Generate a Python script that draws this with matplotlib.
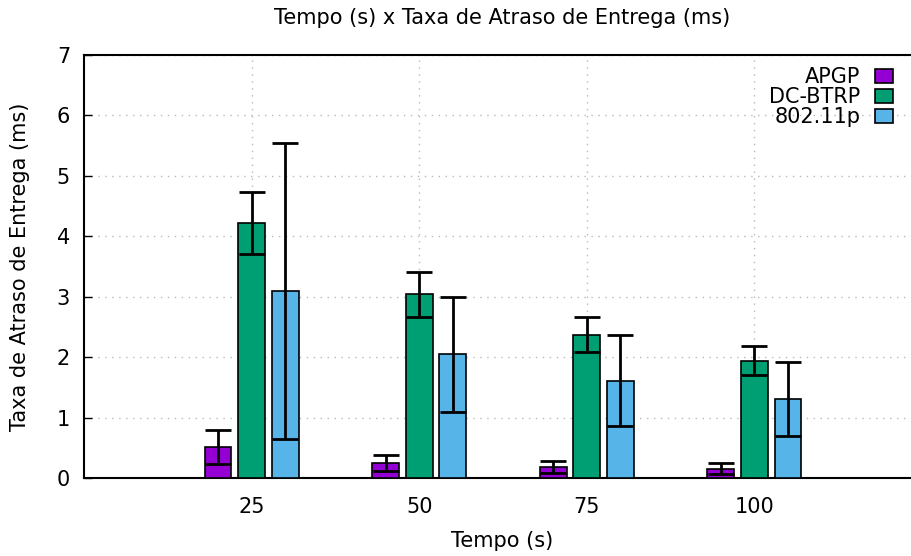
import numpy as np
import matplotlib
matplotlib.use("Agg")
import matplotlib.pyplot as plt

# data
tempos = [25, 50, 75, 100]
apgp = [0.51, 0.25, 0.18, 0.15]
apgp_err = [0.28, 0.13, 0.10, 0.09]
dcbtrp = [4.22, 3.04, 2.37, 1.94]
dcbtrp_err = [0.51, 0.37, 0.29, 0.24]
p80211 = [3.09, 2.05, 1.61, 1.31]
p80211_err = [2.45, 0.95, 0.75, 0.61]

series = [
    ("APGP", apgp, apgp_err, "#9400d3"),
    ("DC-BTRP", dcbtrp, dcbtrp_err, "#009e73"),
    ("802.11p", p80211, p80211_err, "#56b4e9"),
]

plt.rcParams['font.family'] = ['DejaVu Sans']
fs = 15

fig = plt.figure(figsize=(9.12, 5.56), dpi=100)
# right border sits past the image edge, like the reference
ax = fig.add_axes([84 / 912, 78 / 556, (922 - 84) / 912, (478 - 55) / 556])

x = np.array(tempos, dtype=float)
offsets = [-5, 0, 5]
width = 4
for (name, vals, errs, color), off in zip(series, offsets):
    ax.bar(x + off, vals, width, color=color, edgecolor="black", linewidth=1.2,
           label=name, zorder=3)
    ax.errorbar(x + off, vals, yerr=errs, fmt="none", ecolor="black",
                elinewidth=2, capsize=9.5, capthick=2, zorder=4)

ax.set_xlim(0, 125)
ax.set_ylim(0, 7)
ax.set_xticks(tempos)
ax.set_yticks(range(0, 8))
ax.tick_params(axis="x", length=0, labelsize=fs, pad=14)
ax.tick_params(axis="y", direction="in", length=6, width=1, labelsize=fs, pad=10)
ax.grid(True, color="#b8b8b8", linestyle=(0, (1, 4)), linewidth=1, zorder=0)
for s in ax.spines.values():
    s.set_linewidth(1.5)

ax.set_xlabel("Tempo (s)", fontsize=fs, va="center")
ax.set_ylabel("Taxa de Atraso de Entrega (ms)", fontsize=fs, va="center")
ax.xaxis.set_label_coords(418 / 838, (478 - 541) / 423)
ax.yaxis.set_label_coords((20 - 84) / 838, 0.5)
fig.text(502 / 912, 1 - 18 / 556, "Tempo (s) x Taxa de Atraso de Entrega (ms)",
         ha="center", va="center", fontsize=fs)

ax.legend(loc="upper right", bbox_to_anchor=((905 - 84) / 838, 1.0),
          frameon=False, markerfirst=False, fontsize=fs, handlelength=0.85,
          handleheight=0.7, labelspacing=0.0, handletextpad=0.7,
          borderaxespad=0.2)

fig.savefig("out.png", dpi=100)
